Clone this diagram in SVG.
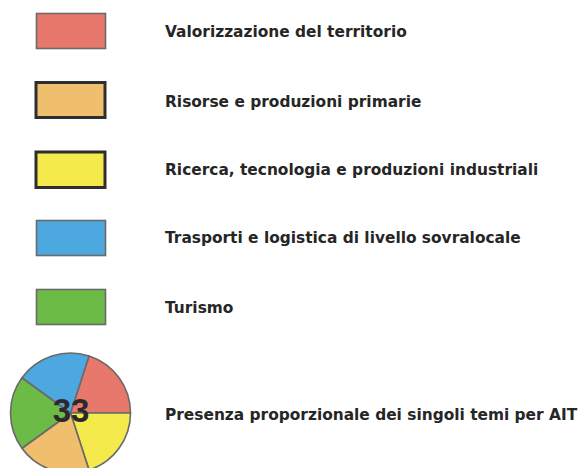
<svg xmlns="http://www.w3.org/2000/svg" width="583" height="468" viewBox="0 0 583 468">
<style>
.lbl{font-family:"DejaVu Sans",Verdana,sans-serif;font-size:15.4px;font-weight:bold;fill:#262626;}
.thin{stroke:#6a6a6a;stroke-width:1.6;}
.thick{stroke:#2e2e2e;stroke-width:3;}
.sl{stroke:#6a6a6a;stroke-width:1.6;stroke-linejoin:round;}
</style>
<rect width="583" height="468" fill="#ffffff"/>
<g id="leg-valorizzazione">
<rect x="36.5" y="13.5" width="69" height="35" fill="#e8786c" class="thin"/>
<text x="165" y="37" class="lbl">Valorizzazione del territorio</text>
</g>
<g id="leg-risorse">
<rect x="36" y="82.5" width="69" height="35" fill="#efbf6d" class="thick"/>
<text x="165" y="107" class="lbl">Risorse e produzioni primarie</text>
</g>
<g id="leg-ricerca">
<rect x="36" y="152" width="69" height="35.5" fill="#f5ea4c" class="thick"/>
<text x="165" y="175" class="lbl">Ricerca, tecnologia e produzioni industriali</text>
</g>
<g id="leg-trasporti">
<rect x="36.5" y="220.5" width="69" height="35" fill="#4ea8e0" class="thin"/>
<text x="165" y="243" class="lbl">Trasporti e logistica di livello sovralocale</text>
</g>
<g id="leg-turismo">
<rect x="36.5" y="289.5" width="69" height="35" fill="#6dbb47" class="thin"/>
<text x="165" y="313" class="lbl">Turismo</text>
</g>
<g id="leg-pie">
<path d="M70.5 413 L89.04 355.94 A60 60 0 0 1 130.5 413 Z" fill="#e8786c" class="sl"/>
<path d="M70.5 413 L130.5 413 A60 60 0 0 1 89.04 470.06 Z" fill="#f5ea4c" class="sl"/>
<path d="M70.5 413 L89.04 470.06 A60 60 0 0 1 21.96 448.27 Z" fill="#efbf6d" class="sl"/>
<path d="M70.5 413 L21.96 448.27 A60 60 0 0 1 21.96 377.73 Z" fill="#6dbb47" class="sl"/>
<path d="M70.5 413 L21.96 377.73 A60 60 0 0 1 89.04 355.94 Z" fill="#4ea8e0" class="sl"/>
<text x="71" y="422" text-anchor="middle" style="font-family:'Liberation Sans',Arial,sans-serif;font-size:33px;font-weight:bold;fill:#2a2a2a">33</text>
<text x="165" y="420" class="lbl">Presenza proporzionale dei singoli temi per AIT</text>
</g>
</svg>
